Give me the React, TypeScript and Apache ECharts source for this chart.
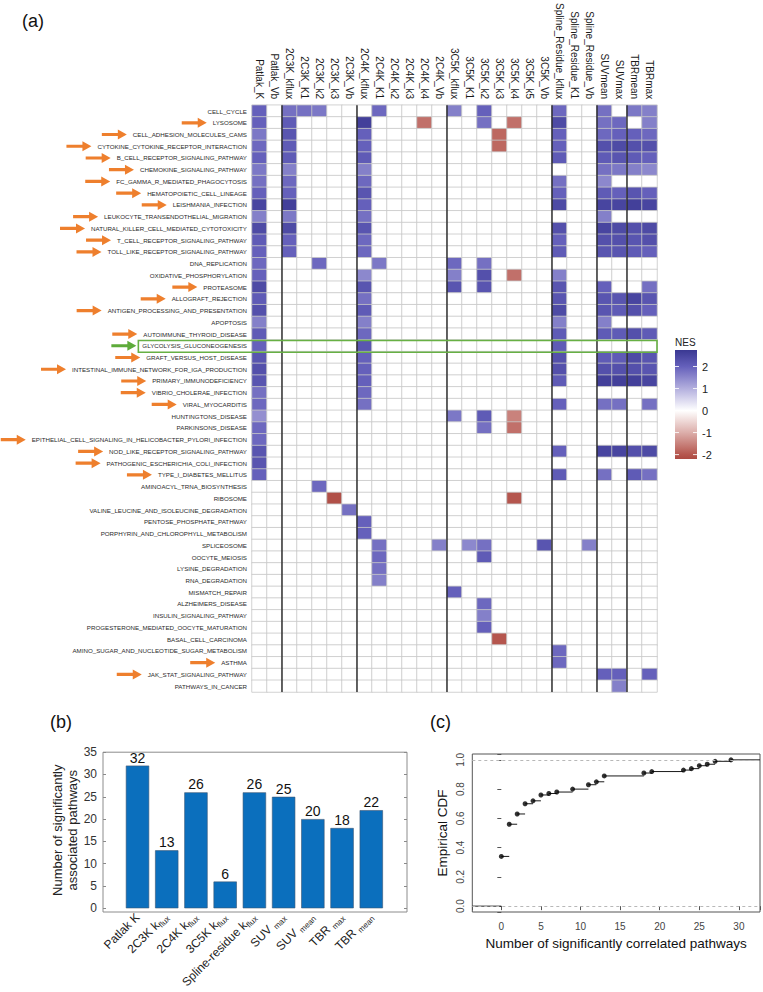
import React, { useEffect, useRef } from 'react';
import * as echarts from 'echarts';

const FONT = '"Liberation Sans", Arial, Helvetica, sans-serif';

// ---------------- Panel (a) data ----------------
const pathways = [
  'CELL_CYCLE', 'LYSOSOME', 'CELL_ADHESION_MOLECULES_CAMS', 'CYTOKINE_CYTOKINE_RECEPTOR_INTERACTION',
  'B_CELL_RECEPTOR_SIGNALING_PATHWAY', 'CHEMOKINE_SIGNALING_PATHWAY', 'FC_GAMMA_R_MEDIATED_PHAGOCYTOSIS',
  'HEMATOPOIETIC_CELL_LINEAGE', 'LEISHMANIA_INFECTION', 'LEUKOCYTE_TRANSENDOTHELIAL_MIGRATION',
  'NATURAL_KILLER_CELL_MEDIATED_CYTOTOXICITY', 'T_CELL_RECEPTOR_SIGNALING_PATHWAY',
  'TOLL_LIKE_RECEPTOR_SIGNALING_PATHWAY', 'DNA_REPLICATION', 'OXIDATIVE_PHOSPHORYLATION', 'PROTEASOME',
  'ALLOGRAFT_REJECTION', 'ANTIGEN_PROCESSING_AND_PRESENTATION', 'APOPTOSIS', 'AUTOIMMUNE_THYROID_DISEASE',
  'GLYCOLYSIS_GLUCONEOGENESIS', 'GRAFT_VERSUS_HOST_DISEASE', 'INTESTINAL_IMMUNE_NETWORK_FOR_IGA_PRODUCTION',
  'PRIMARY_IMMUNODEFICIENCY', 'VIBRIO_CHOLERAE_INFECTION', 'VIRAL_MYOCARDITIS', 'HUNTINGTONS_DISEASE',
  'PARKINSONS_DISEASE', 'EPITHELIAL_CELL_SIGNALING_IN_HELICOBACTER_PYLORI_INFECTION',
  'NOD_LIKE_RECEPTOR_SIGNALING_PATHWAY', 'PATHOGENIC_ESCHERICHIA_COLI_INFECTION', 'TYPE_I_DIABETES_MELLITUS',
  'AMINOACYL_TRNA_BIOSYNTHESIS', 'RIBOSOME', 'VALINE_LEUCINE_AND_ISOLEUCINE_DEGRADATION',
  'PENTOSE_PHOSPHATE_PATHWAY', 'PORPHYRIN_AND_CHLOROPHYLL_METABOLISM', 'SPLICEOSOME', 'OOCYTE_MEIOSIS',
  'LYSINE_DEGRADATION', 'RNA_DEGRADATION', 'MISMATCH_REPAIR', 'ALZHEIMERS_DISEASE', 'INSULIN_SIGNALING_PATHWAY',
  'PROGESTERONE_MEDIATED_OOCYTE_MATURATION', 'BASAL_CELL_CARCINOMA', 'AMINO_SUGAR_AND_NUCLEOTIDE_SUGAR_METABOLISM',
  'ASTHMA', 'JAK_STAT_SIGNALING_PATHWAY', 'PATHWAYS_IN_CANCER',
];

const parameters = [
  'Patlak_K', 'Patlak_Vb', '2C3K_kflux', '2C3K_K1', '2C3K_k2', '2C3K_k3', '2C3K_Vb',
  '2C4K_kflux', '2C4K_K1', '2C4K_k2', '2C4K_k3', '2C4K_k4', '2C4K_Vb',
  '3C5K_kflux', '3C5K_K1', '3C5K_k2', '3C5K_k3', '3C5K_k4', '3C5K_k5', '3C5K_Vb',
  'Spline_Residue_kflux', 'Spline_Residue_K1', 'Spline_Residue_Vb', 'SUVmean', 'SUVmax', 'TBRmean', 'TBRmax',
];
const parameterGroupSizes = [2, 5, 6, 7, 3, 2, 2];

// significant NES per parameter: [pathwayIndex, NES]
const nesPatlakK = [[0, 2.0], [1, 2.0], [2, 1.7], [3, 1.9], [4, 2.0], [5, 1.7], [6, 1.8], [7, 2.0], [8, 2.5], [9, 1.6], [10, 2.4], [11, 2.1], [12, 2.0], [13, 1.9], [14, 2.0], [15, 2.4], [16, 2.1], [17, 2.3], [18, 1.6], [19, 2.1], [20, 2.0], [21, 2.2], [22, 2.3], [23, 2.2], [24, 1.8], [25, 1.9], [26, 1.4], [27, 1.9], [28, 1.9], [29, 2.2], [30, 2.2], [31, 2.0]];
const nesPatlakVb: number[][] = [];
const nes2C3Kkflux = [[0, 1.8], [1, 2.1], [2, 2.2], [3, 2.1], [4, 2.1], [5, 1.6], [6, 1.9], [7, 2.0], [8, 2.6], [9, 1.7], [10, 2.4], [11, 2.0], [12, 2.0]];
const nes2C3KK1 = [[0, 1.8]];
const nes2C3Kk2 = [[0, 1.7], [13, 1.9], [32, 1.9]];
const nes2C3Kk3 = [[33, -2.1]];
const nes2C3KVb = [[34, 1.8]];
const nes2C4Kkflux = [[1, 2.6], [2, 2.0], [3, 2.0], [4, 2.1], [5, 1.6], [6, 1.9], [7, 2.2], [8, 2.0], [9, 1.8], [10, 2.2], [11, 1.9], [12, 1.9], [14, 1.5], [15, 2.2], [16, 1.8], [17, 2.1], [18, 1.6], [19, 1.9], [20, 2.2], [21, 2.0], [22, 2.0], [23, 2.0], [24, 1.9], [25, 1.8], [35, 2.0], [36, 2.0]];
const nes2C4KK1 = [[0, 1.9], [13, 1.7], [37, 1.8], [38, 1.9], [39, 1.8], [40, 1.6]];
const nes2C4Kk2: number[][] = [];
const nes2C4Kk3: number[][] = [];
const nes2C4Kk4 = [[1, -1.7]];
const nes2C4KVb = [[37, 1.6]];
const nes3C5Kkflux = [[0, 1.6], [13, 1.9], [14, 1.6], [15, 2.2], [26, 1.7], [41, 2.0]];
const nes3C5KK1 = [[37, 1.5]];
const nes3C5Kk2 = [[0, 2.0], [1, 1.8], [13, 1.8], [14, 2.3], [15, 2.2], [26, 2.1], [27, 1.8], [37, 1.8], [38, 2.1], [42, 1.9], [43, 1.6], [44, 2.0]];
const nes3C5Kk3 = [[2, -1.8], [3, -1.8], [45, -2.0]];
const nes3C5Kk4 = [[1, -1.7], [14, -1.7], [26, -1.5], [27, -1.7], [33, -2.0]];
const nes3C5Kk5: number[][] = [];
const nes3C5KVb = [[37, 2.2]];
const nesSplineKflux = [[0, 1.9], [1, 2.4], [2, 2.0], [3, 2.0], [4, 2.1], [6, 1.8], [7, 2.0], [8, 2.4], [10, 2.3], [11, 2.0], [12, 2.1], [14, 1.6], [15, 2.2], [16, 2.2], [17, 2.4], [18, 1.6], [19, 2.1], [20, 2.1], [21, 2.3], [22, 2.3], [23, 2.1], [25, 2.0], [29, 2.0], [31, 2.1], [46, 1.9], [47, 1.9]];
const nesSplineK1: number[][] = [];
const nesSplineVb = [[37, 1.6]];
const nesSUVmean = [[0, 1.8], [1, 1.8], [2, 1.9], [3, 2.3], [4, 2.1], [5, 1.8], [6, 1.5], [7, 2.1], [8, 2.5], [9, 1.6], [10, 2.5], [11, 2.3], [12, 2.2], [15, 2.0], [16, 2.2], [17, 2.2], [18, 1.6], [19, 2.1], [21, 2.1], [22, 2.3], [23, 2.6], [25, 1.8], [29, 2.5], [31, 1.8], [48, 2.0]];
const nesSUVmax = [[1, 1.9], [2, 2.0], [3, 2.4], [4, 2.2], [5, 1.7], [7, 2.0], [8, 2.5], [10, 2.4], [11, 2.3], [12, 2.2], [16, 2.2], [17, 2.1], [19, 2.1], [21, 2.1], [22, 2.3], [23, 2.6], [25, 1.8], [29, 2.5], [48, 2.0], [49, 1.6]];
const nesTBRmean = [[0, 1.7], [2, 2.0], [3, 2.3], [4, 2.1], [5, 1.6], [7, 2.2], [8, 2.6], [10, 2.3], [11, 2.2], [12, 2.1], [16, 2.5], [17, 2.3], [19, 2.3], [21, 2.4], [22, 2.3], [23, 2.6], [29, 2.3], [31, 2.1]];
const nesTBRmax = [[0, 1.6], [1, 1.6], [2, 1.9], [3, 2.3], [4, 2.0], [5, 1.5], [7, 2.0], [8, 2.5], [10, 2.4], [11, 2.3], [12, 2.0], [15, 1.8], [16, 2.2], [17, 2.0], [19, 2.1], [21, 2.2], [22, 2.2], [23, 2.5], [25, 1.8], [29, 2.4], [31, 1.8], [48, 2.0]];

const nesColumns = [
  nesPatlakK, nesPatlakVb, nes2C3Kkflux, nes2C3KK1, nes2C3Kk2, nes2C3Kk3, nes2C3KVb,
  nes2C4Kkflux, nes2C4KK1, nes2C4Kk2, nes2C4Kk3, nes2C4Kk4, nes2C4KVb,
  nes3C5Kkflux, nes3C5KK1, nes3C5Kk2, nes3C5Kk3, nes3C5Kk4, nes3C5Kk5, nes3C5KVb,
  nesSplineKflux, nesSplineK1, nesSplineVb, nesSUVmean, nesSUVmax, nesTBRmean, nesTBRmax,
];

const arrowPathways = [
  'LYSOSOME', 'CELL_ADHESION_MOLECULES_CAMS', 'CYTOKINE_CYTOKINE_RECEPTOR_INTERACTION',
  'B_CELL_RECEPTOR_SIGNALING_PATHWAY', 'CHEMOKINE_SIGNALING_PATHWAY', 'FC_GAMMA_R_MEDIATED_PHAGOCYTOSIS',
  'HEMATOPOIETIC_CELL_LINEAGE', 'LEISHMANIA_INFECTION', 'LEUKOCYTE_TRANSENDOTHELIAL_MIGRATION',
  'NATURAL_KILLER_CELL_MEDIATED_CYTOTOXICITY', 'T_CELL_RECEPTOR_SIGNALING_PATHWAY',
  'TOLL_LIKE_RECEPTOR_SIGNALING_PATHWAY', 'PROTEASOME', 'ALLOGRAFT_REJECTION',
  'ANTIGEN_PROCESSING_AND_PRESENTATION', 'AUTOIMMUNE_THYROID_DISEASE', 'GRAFT_VERSUS_HOST_DISEASE',
  'INTESTINAL_IMMUNE_NETWORK_FOR_IGA_PRODUCTION', 'PRIMARY_IMMUNODEFICIENCY', 'VIBRIO_CHOLERAE_INFECTION',
  'VIRAL_MYOCARDITIS', 'EPITHELIAL_CELL_SIGNALING_IN_HELICOBACTER_PYLORI_INFECTION',
  'NOD_LIKE_RECEPTOR_SIGNALING_PATHWAY', 'PATHOGENIC_ESCHERICHIA_COLI_INFECTION', 'TYPE_I_DIABETES_MELLITUS',
  'ASTHMA', 'JAK_STAT_SIGNALING_PATHWAY',
];
const highlightedPathway = 'GLYCOLYSIS_GLUCONEOGENESIS';

const nesLegendTicks = [2, 1, 0, -1, -2];
const nesColorValues = [-2.2, -2, -1, 0, 1, 2, 2.8];
const nesColorStops = ['#ad4a42', '#b5564e', '#dcaeaa', '#ffffff', '#b3afde', '#6560bb', '#37358f'];

// ---------------- Panel (b) data ----------------
const barNames = ['Patlak K', '2C3K k', '2C4K k', '3C5K k', 'Spline-residue k', 'SUV ', 'SUV ', 'TBR ', 'TBR '];
const barSubscripts = ['', 'flux', 'flux', 'flux', 'flux', 'max', 'mean', 'max', 'mean'];
const barCounts = [32, 13, 26, 6, 26, 25, 20, 18, 22];

// ---------------- Panel (c) data ----------------
const ecdfKnots = [0, 1, 2, 3, 4, 5, 6, 7, 9, 11, 12, 13, 18, 19, 23, 24, 25, 26, 27, 29];
const ecdfValues = [0.34, 0.56, 0.63, 0.70, 0.72, 0.76, 0.77, 0.78, 0.80, 0.83, 0.85, 0.89, 0.91, 0.92, 0.93, 0.94, 0.96, 0.97, 0.99, 1.0];

// ---------------- helpers ----------------
function hexToRgb(h: string) {
  const n = parseInt(h.slice(1), 16);
  return [(n >> 16) & 255, (n >> 8) & 255, n & 255];
}
function rampColor(v: number) {
  const xs = nesColorValues;
  if (v <= xs[0]) return nesColorStops[0];
  if (v >= xs[xs.length - 1]) return nesColorStops[xs.length - 1];
  let i = 0;
  while (v > xs[i + 1]) i++;
  const t = (v - xs[i]) / (xs[i + 1] - xs[i]);
  const a = hexToRgb(nesColorStops[i]);
  const b = hexToRgb(nesColorStops[i + 1]);
  const c = a.map((x, k) => Math.round(x + (b[k] - x) * t));
  return `rgb(${c[0]},${c[1]},${c[2]})`;
}

export default function App() {
  const ref = useRef<HTMLDivElement>(null);

  useEffect(() => {
    const el = ref.current!;
    const chart = echarts.init(el, null, { renderer: 'svg' });

    const ROW_FONT = 6.2;
    const gridA = { left: 252, top: 104, width: 405, height: 588 };
    const labelMargin = 5;

    // heatmap data
    const heat: number[][] = [];
    nesColumns.forEach((col, c) => {
      const vals = new Array(pathways.length).fill(0);
      col.forEach(([r, v]) => { vals[r] = v; });
      vals.forEach((v, r) => heat.push([c, r, v]));
    });

    // group separators
    const separators: number[][] = [];
    let acc = 0;
    parameterGroupSizes.slice(0, -1).forEach((s) => { acc += s; separators.push([acc, 0]); });

    const vmMin = nesColorValues[0];
    const vmMax = nesColorValues[nesColorValues.length - 1];
    const vmColors = Array.from({ length: 101 }, (_, i) => rampColor(vmMin + (i * (vmMax - vmMin)) / 100));

    // ECDF ranges (R plot.ecdf style)
    const kMin = Math.min(...ecdfKnots);
    const kMax = Math.max(...ecdfKnots);
    const dr = Math.max(0.08 * (kMax - kMin), 1);
    const xlo0 = kMin - dr;
    const xhi0 = kMax + dr;
    const pad = 0.04 * (xhi0 - xlo0);
    const ecdfXMin = xlo0 - pad;
    const ecdfXMax = xhi0 + pad;
    const segments: number[][] = [[ecdfXMin, ecdfKnots[0], 0]];
    ecdfKnots.forEach((k, i) => {
      segments.push([k, i + 1 < ecdfKnots.length ? ecdfKnots[i + 1] : ecdfXMax, ecdfValues[i]]);
    });

    const barCategories = barNames.map((n, i) => n + barSubscripts[i]);

    const option: any = {
      animation: false,
      backgroundColor: '#ffffff',
      textStyle: { fontFamily: FONT },
      grid: [
        { ...gridA },
        { left: 122.9, top: 752.2, width: 263, height: 159.8 },
        { left: 472.3, top: 754, width: 289.4, height: 158, show: true, borderColor: '#555555', borderWidth: 1, backgroundColor: 'transparent' },
      ],
      visualMap: {
        type: 'continuous', show: false, seriesIndex: 0, dimension: 2,
        min: vmMin, max: vmMax, inRange: { color: vmColors },
      },
      xAxis: [
        {
          type: 'category', gridIndex: 0, position: 'top', data: parameters,
          axisLine: { show: false },
          axisTick: { alignWithLabel: true, length: 4, lineStyle: { color: '#555' } },
          axisLabel: { rotate: 90, interval: 0, fontSize: 10, color: '#1a1a1a', margin: 6, fontFamily: FONT },
          splitLine: { show: false },
        },
        {
          type: 'category', gridIndex: 1, data: barCategories,
          axisLine: { show: false }, axisTick: { show: false },
          axisLabel: {
            rotate: 45, interval: 0, margin: 7, color: '#222',
            formatter: (_v: string, i: number) =>
              barSubscripts[i] ? `{n|${barNames[i]}}{s|${barSubscripts[i]}}` : `{n|${barNames[i]}}`,
            rich: {
              n: { fontSize: 12, color: '#222', fontFamily: FONT, verticalAlign: 'top', lineHeight: 12 },
              s: { fontSize: 8, color: '#222', fontFamily: FONT, verticalAlign: 'bottom', padding: [6, 0, 0, 0] },
            },
          },
        },
        {
          type: 'value', gridIndex: 2, min: ecdfXMin, max: ecdfXMax, minInterval: 5, maxInterval: 5,
          axisLine: { show: false },
          axisTick: { show: true, length: 4, lineStyle: { color: '#555' } },
          axisLabel: {
            fontSize: 10, color: '#444', margin: 9,
            formatter: (v: number) => (Math.abs(v / 5 - Math.round(v / 5)) < 1e-6 ? String(Math.round(v)) : ''),
          },
          splitLine: { show: false },
          name: 'Number of significantly correlated pathways', nameLocation: 'middle', nameGap: 24,
          nameTextStyle: { fontSize: 13.5, color: '#111', fontFamily: FONT },
        },
      ],
      yAxis: [
        {
          type: 'category', gridIndex: 0, inverse: true, data: pathways,
          axisLine: { show: false },
          axisTick: { alignWithLabel: true, length: 3, lineStyle: { color: '#555' } },
          axisLabel: { interval: 0, fontSize: ROW_FONT, color: '#2a2a2a', margin: labelMargin, fontFamily: FONT },
          splitLine: { show: false },
        },
        {
          type: 'value', gridIndex: 1, min: 0, max: 35, interval: 5, position: 'left', offset: 19.9,
          axisLine: { show: false },
          axisTick: { show: true, inside: true, length: 3, lineStyle: { color: '#8a8a8a' } },
          axisLabel: { fontSize: 12, color: '#333', margin: 6 },
          splitLine: { show: false },
          name: 'Number of significantly\nassociated pathways', nameLocation: 'middle', nameGap: 19, nameRotate: 90,
          nameTextStyle: { fontSize: 13, color: '#222', lineHeight: 15, fontFamily: FONT },
        },
        {
          type: 'value', gridIndex: 1, min: 0, max: 35, interval: 5, position: 'right', offset: 21.1,
          axisLine: { show: false },
          axisTick: { show: true, inside: true, length: 3, lineStyle: { color: '#8a8a8a' } },
          axisLabel: { show: false },
          splitLine: { show: false },
        },
        {
          type: 'value', gridIndex: 2, min: -0.04, max: 1.04, minInterval: 0.2, maxInterval: 0.2,
          axisLine: { show: false },
          axisTick: { show: true, length: 4, lineStyle: { color: '#555' } },
          axisLabel: {
            rotate: 90, fontSize: 10, color: '#444', margin: 7,
            formatter: (v: number) => (Math.abs(v / 0.2 - Math.round(v / 0.2)) < 1e-6 ? Math.abs(v).toFixed(1) : ''),
          },
          splitLine: { show: false },
          name: 'Empirical CDF', nameLocation: 'middle', nameGap: 23, nameRotate: 90,
          nameTextStyle: { fontSize: 13.5, color: '#111', fontFamily: FONT },
        },
      ],
      series: [
        {
          type: 'heatmap', xAxisIndex: 0, yAxisIndex: 0, data: heat, progressive: 0,
          itemStyle: { borderColor: '#c6c6c6', borderWidth: 0.8 },
          emphasis: { disabled: true },
        },
        {
          type: 'custom', xAxisIndex: 0, yAxisIndex: 0, data: separators, z: 5, silent: true,
          encode: { x: 0, y: 1 },
          renderItem: (params: any, api: any) => {
            const c = api.coord([api.value(0), api.value(1)]);
            const w = api.size([1, 0])[0];
            const x = c[0] - w / 2;
            const cs = params.coordSys;
            return {
              type: 'line',
              shape: { x1: x, y1: cs.y, x2: x, y2: cs.y + cs.height },
              style: { stroke: '#1a1a1a', lineWidth: 1.3 },
            };
          },
        },
        {
          type: 'bar', xAxisIndex: 1, yAxisIndex: 1, data: barCounts, barWidth: 23.3,
          itemStyle: { color: '#0b6fbd', borderColor: '#3b5574', borderWidth: 0.6 },
          label: { show: true, position: 'top', distance: 1, fontSize: 14, color: '#111', fontFamily: FONT },
        },
        {
          type: 'custom', xAxisIndex: 2, yAxisIndex: 3, data: segments, silent: true,
          encode: { x: [0, 1], y: 2 },
          renderItem: (_params: any, api: any) => {
            const a = api.coord([api.value(0), api.value(2)]);
            const b = api.coord([api.value(1), api.value(2)]);
            return {
              type: 'line',
              shape: { x1: a[0], y1: a[1], x2: b[0], y2: b[1] },
              style: { stroke: '#1a1a1a', lineWidth: 1 },
            };
          },
        },
        {
          type: 'scatter', xAxisIndex: 2, yAxisIndex: 3,
          data: ecdfKnots.map((k, i) => [k, ecdfValues[i]]),
          symbolSize: 5, itemStyle: { color: '#000' }, z: 4,
          markLine: {
            silent: true, symbol: 'none', label: { show: false },
            lineStyle: { color: '#b8b8b8', type: [3, 3], width: 1 },
            data: [{ yAxis: 0 }, { yAxis: 1 }],
          },
        },
      ],
    };

    chart.setOption(option);

    // ---------- overlay graphics ----------
    const canvas = document.createElement('canvas');
    const ctx = canvas.getContext('2d')!;
    ctx.font = `${ROW_FONT}px ${FONT}`;
    const labelRight = gridA.left - labelMargin;
    const rowY = (r: number) => chart.convertToPixel({ yAxisIndex: 0 } as any, r) as unknown as number;
    const rowH = gridA.height / pathways.length;

    const elements: any[] = [];
    const arrow = (tip: number, y: number, color: string) => ({
      type: 'polygon', silent: true, z: 10,
      shape: {
        points: [
          [tip, y], [tip - 9, y - 5], [tip - 9, y - 1.6], [tip - 25, y - 1.6],
          [tip - 25, y + 1.6], [tip - 9, y + 1.6], [tip - 9, y + 5],
        ],
      },
      style: { fill: color },
    });

    arrowPathways.forEach((p) => {
      const r = pathways.indexOf(p);
      if (r < 0) return;
      const w = ctx.measureText(p).width;
      const left = labelRight - w;
      elements.push(arrow(left - 6, rowY(r), '#ee7f2d'));
    });

    const hr = pathways.indexOf(highlightedPathway);
    const hw = ctx.measureText(highlightedPathway).width;
    const boxLeft = labelRight - hw - 4;
    const hy = rowY(hr);
    elements.push({
      type: 'rect', silent: true, z: 10,
      shape: { x: boxLeft, y: hy - rowH / 2 + 0.6, width: gridA.left + gridA.width - boxLeft, height: rowH },
      style: { fill: 'none', stroke: '#67b044', lineWidth: 1.6 },
    });
    elements.push(arrow(boxLeft - 2, hy, '#5dab3a'));

    // NES legend
    const lg = { x: 675, y: 350, w: 22, h: 109, max: 2.75, min: -2.2 };
    const vy = (v: number) => lg.y + ((lg.max - v) / (lg.max - lg.min)) * lg.h;
    const stops: any[] = [];
    const sv = [lg.max, ...nesColorValues.filter((v) => v < lg.max && v > lg.min).reverse(), lg.min];
    sv.forEach((v) => stops.push({ offset: (lg.max - v) / (lg.max - lg.min), color: rampColor(v) }));
    elements.push({
      type: 'rect', silent: true,
      shape: { x: lg.x, y: lg.y, width: lg.w, height: lg.h },
      style: { fill: new echarts.graphic.LinearGradient(0, 0, 0, 1, stops) },
    });
    nesLegendTicks.forEach((t) => {
      const y = vy(t);
      elements.push({ type: 'line', silent: true, shape: { x1: lg.x, y1: y, x2: lg.x + 4, y2: y }, style: { stroke: 'rgba(255,255,255,0.85)', lineWidth: 1 } });
      elements.push({ type: 'line', silent: true, shape: { x1: lg.x + lg.w - 4, y1: y, x2: lg.x + lg.w, y2: y }, style: { stroke: 'rgba(255,255,255,0.85)', lineWidth: 1 } });
      elements.push({
        type: 'text', silent: true, x: lg.x + lg.w + 5, y,
        style: { text: String(t), fontSize: 11, fill: '#222', fontFamily: FONT, verticalAlign: 'middle', align: 'left' },
      });
    });
    elements.push({
      type: 'text', silent: true, x: lg.x, y: lg.y - 8,
      style: { text: 'NES', fontSize: 10, fill: '#222', fontFamily: FONT, verticalAlign: 'middle', align: 'left' },
    });

    // frame of panel (b)
    elements.push({
      type: 'rect', silent: true, z: 3,
      shape: { x: 103, y: 752.2, width: 304, height: 159.8 },
      style: { fill: 'none', stroke: '#8c8c8c', lineWidth: 1 },
    });

    // panel letters
    const letter = (t: string, x: number, y: number) => ({
      type: 'text', silent: true, x, y,
      style: { text: t, fontSize: 18, fill: '#111', fontFamily: FONT, verticalAlign: 'middle', align: 'left' },
    });
    elements.push(letter('(a)', 22, 21));
    elements.push(letter('(b)', 50, 722));
    elements.push(letter('(c)', 430, 722));

    chart.setOption({ graphic: { elements } });

    return () => chart.dispose();
  }, []);

  return (
    <div
      ref={ref}
      style={{ position: 'absolute', left: 0, top: 0, width: 763, height: 992, background: '#ffffff' }}
    />
  );
}
